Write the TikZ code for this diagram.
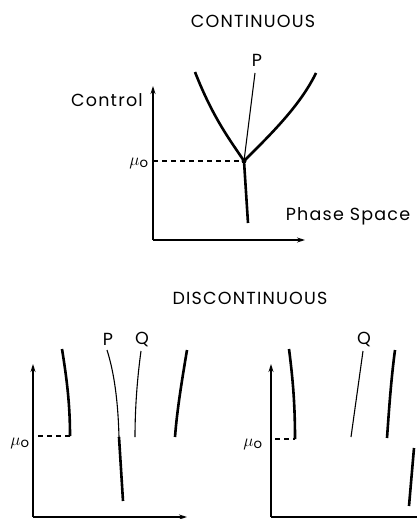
\documentclass[tikz,border=0pt]{standalone}
\usepackage{fontspec}
\setmainfont{Poppins}
\usetikzlibrary{arrows.meta}
\begin{document}
\begin{tikzpicture}[x=1pt,y=-1pt,
  thickc/.style={line width=2.6pt},
  thinc/.style={line width=1.1pt},
  axis/.style={line width=1.1pt,-{Stealth[length=8pt,width=5pt]}},
  dashline/.style={line width=1.1pt,dash pattern=on 5pt off 4pt},
  lab/.style={font=\fontsize{17.5}{20}\selectfont\addfontfeature{LetterSpace=7},inner sep=0pt},
  mu/.style={font=\fontsize{19}{21}\selectfont,inner sep=0pt}]
\useasboundingbox (0,0) rectangle (416,519);
% ---------- continuous ----------
\node[lab] (t1) at (253,21) {CONTINUOUS};
\node[lab,anchor=east] (ctl) at (143,100) {Control};
\node[lab] (ps) at (348,216) {Phase Space};
\node[lab] (p1) at (257,60) {P};
\node[mu] (m1) at (139,163) {$\mu_{\mathrm{o}}$};
\coordinate (o1) at (153,240);
\coordinate (y1) at (153,86);
\coordinate (x1) at (305,240);
\coordinate (v1) at (244,161);
\coordinate (d1) at (153,161);
\coordinate (la) at (195,72);
\coordinate (ra) at (316,73);
\coordinate (pa) at (255,73);
\coordinate (ba) at (248,223);
\draw[axis] (o1) -- (y1);
\draw[axis] (o1) -- (x1);
\draw[dashline] (d1) -- (v1);
\draw[thickc] (la) .. controls (213,118) and (230,140) .. (v1);
\draw[thickc] (v1) .. controls (270,135) and (300,106) .. (ra);
\draw[thinc] (pa) -- (v1);
\draw[thickc] (v1) -- (ba);
\fill (v1) circle (2.5pt);
% ---------- discontinuous ----------
\node[lab] (t2) at (250,298) {DISCONTINUOUS};
% left panel
\node[lab] (p2) at (108,339) {P};
\node[lab] (q2) at (142,339) {Q};
\node[mu] (m2) at (20,443) {$\mu_{\mathrm{o}}$};
\coordinate (o2) at (33,517);
\coordinate (y2) at (33,364);
\coordinate (x2) at (187,517);
\coordinate (d2a) at (38,436);
\coordinate (d2b) at (70,436);
\coordinate (l2) at (62,349);
\coordinate (pt2) at (107,350);
\coordinate (pm2) at (119,437);
\coordinate (pb2) at (123,501);
\coordinate (qt2) at (141,351);
\coordinate (qb2) at (135,437);
\coordinate (rt2) at (187,350);
\coordinate (rb2) at (175,437);
\draw[axis] (o2) -- (y2);
\draw[axis] (o2) -- (x2);
\draw[dashline] (d2a) -- (d2b);
\draw[thickc] (l2) .. controls (67,380) and (70,405) .. (d2b);
\draw[thinc] (pt2) .. controls (114,372) and (118,400) .. (pm2);
\draw[thickc] (pm2) -- (pb2);
\draw[thinc] (qt2) .. controls (137,380) and (135,410) .. (qb2);
\draw[thickc] (rt2) .. controls (182,380) and (177,410) .. (rb2);
% right panel
\node[lab] (q3) at (364,339) {Q};
\node[mu] (m3) at (253,444) {$\mu_{\mathrm{o}}$};
\coordinate (o3) at (271,517);
\coordinate (y3) at (271,364);
\coordinate (x3) at (422,517);
\coordinate (d3a) at (275,439);
\coordinate (d3b) at (295,439);
\coordinate (l3) at (289,349);
\coordinate (qt3) at (363,351);
\coordinate (qb3) at (351,437);
\coordinate (rt3) at (395,350);
\coordinate (rb3) at (387,438);
\coordinate (ft3) at (414,448);
\coordinate (fb3) at (409,506);
\draw[axis] (o3) -- (y3);
\draw[line width=1.1pt] (o3) -- (x3);
\draw[dashline] (d3a) -- (d3b);
\draw[thickc] (l3) .. controls (293,380) and (295,405) .. (d3b);
\draw[thinc] (qt3) -- (qb3);
\draw[thickc] (rt3) .. controls (391,380) and (389,410) .. (rb3);
\draw[thickc] (ft3) -- (fb3);
\end{tikzpicture}
\end{document}
